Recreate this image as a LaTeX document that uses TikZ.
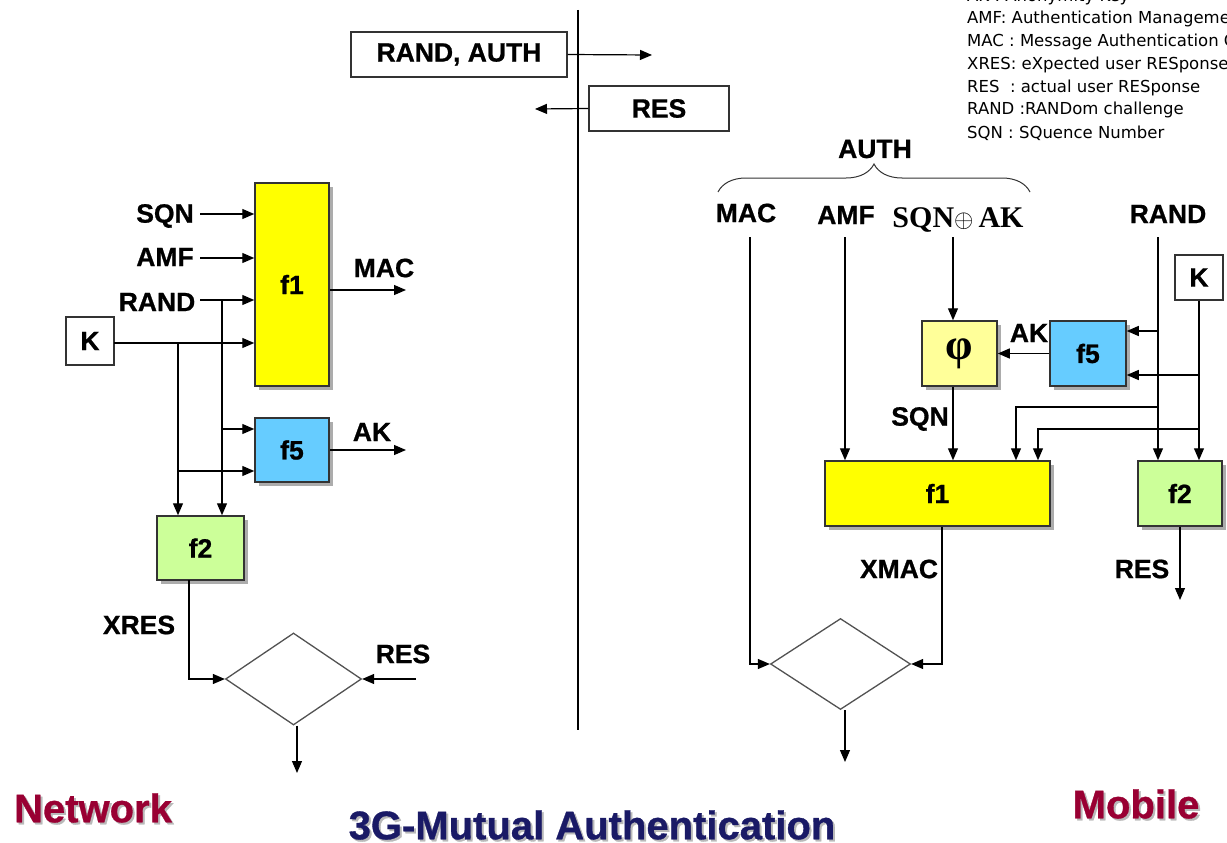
\documentclass[tikz,border=0pt]{standalone}
\usepackage{fontspec}
\setmainfont{DejaVu Sans}
\newfontfamily\serifb{Liberation Serif}
\newfontfamily\lab{Liberation Sans}[BoldFeatures={FakeBold=0.8}]
\usetikzlibrary{arrows.meta,shapes.geometric,shadows,decorations.pathreplacing}
\definecolor{fyellow}{HTML}{FFFF00}
\definecolor{fblue}{HTML}{66CCFF}
\definecolor{fgreen}{HTML}{CCFF99}
\definecolor{flight}{HTML}{FFFF99}
\definecolor{netred}{HTML}{990033}
\definecolor{navy}{HTML}{1A1A66}
\definecolor{boxline}{HTML}{333333}
\tikzset{
 lbl/.style={font=\lab\fontsize{26.5}{29}\selectfont\bfseries, inner sep=0pt},
 fbox/.style={draw=boxline, line width=1.5pt, inner sep=0pt,
   font=\lab\fontsize{26.5}{29}\selectfont\bfseries,
   general shadow={fill=gray!65, shadow xshift=4pt, shadow yshift=-4pt}},
 msgbox/.style={draw=boxline, line width=1.3pt, fill=white, inner sep=0pt,
   font=\lab\fontsize{26.5}{29}\selectfont\bfseries},
 arr/.style={line width=1.2pt, -{Triangle[length=12pt,width=10pt]}},
 ln/.style={line width=1.2pt},
 cmp/.style={diamond, draw=boxline!85, line width=1.3pt, inner sep=0pt},
 legend/.style={anchor=west, inner sep=0pt, font=\fontsize{16.5}{18}\selectfont},
 ttl/.style={font=\lab\fontsize{40}{44}\selectfont\bfseries, inner sep=0pt},
}
\begin{document}
\begin{tikzpicture}[x=1pt,y=-1pt]
\clip (0,0) rectangle (1227,843);
\fill[white] (0,0) rectangle (1227,843);

% divider and messages
\coordinate (divT) at (578,10);
\coordinate (divB) at (578,730);
\draw[ln] (divT) -- (divB);
\node[msgbox, minimum width=216pt, minimum height=45pt] (ra) at (459,54.5) {RAND, AUTH};
\coordinate (raEnd) at (652,55);
\draw[arr] (ra.east) -- (raEnd);
\node[msgbox, minimum width=140pt, minimum height=45pt] (resm) at (659,108.5) {RES};
\coordinate (resEnd) at (535,109);
\draw[arr] (resm.west) -- (resEnd);

% legend
\node[legend] (lg1) at (967,-3) {AK : Anonymity Key};
\node[legend] (lg2) at (967,19) {AMF: Authentication Management Field};
\node[legend] (lg3) at (967,42) {MAC : Message Authentication Code};
\node[legend] (lg4) at (967,65) {XRES: eXpected user RESponse};
\node[legend] (lg5) at (967,88) {RES\ \ : actual user RESponse};
\node[legend] (lg6) at (967,110) {RAND :RANDom challenge};
\node[legend] (lg7) at (967,133) {SQN : SQuence Number};

% ===== Network side =====
\node[fbox, fill=fyellow, minimum width=74pt, minimum height=203pt] (f1L) at (292,284.5) {f1};
\node[fbox, fill=fblue, minimum width=74pt, minimum height=64pt] (f5L) at (292,450) {f5};
\node[fbox, fill=fgreen, minimum width=87pt, minimum height=64pt] (f2L) at (200.5,548) {f2};
\node[msgbox, minimum width=48pt, minimum height=48pt] (kL) at (90,341) {K};
\node[cmp, minimum width=136pt, minimum height=92pt] (cmpL) at (293.5,679) {};

\node[lbl] (sqnL) at (165,216) {SQN};
\node[lbl] (amfL) at (165,257) {AMF};
\node[lbl] (randL) at (157,302) {RAND};
\node[lbl] (macL) at (384,268) {MAC};
\node[lbl] (akL) at (372,432) {AK};
\node[lbl] (xresL) at (139,625) {XRES};
\node[lbl] (resL) at (403,654) {RES};

\coordinate (sqnS) at (200,214);
\coordinate (amfS) at (200,258);
\coordinate (randS) at (200,300);
\draw[arr] (sqnS) -- (sqnS -| f1L.west);
\draw[arr] (amfS) -- (amfS -| f1L.west);
\draw[arr] (randS) -- (randS -| f1L.west);
\coordinate (kS) at (114,343);
\draw[arr] (kS) -- (kS -| f1L.west);
\coordinate (macE) at (406,290);
\draw[arr] (f1L.east |- macE) -- (macE);
\coordinate (akE) at (406,450);
\draw[arr] (f5L.east) -- (akE);
% branches
\coordinate (kx) at (178,343);
\coordinate (rx) at (222,300);
\draw[arr] (kx) -- (kx |- f2L.north);
\draw[arr] (rx) -- (rx |- f2L.north);
\coordinate (rb) at (222,429);
\coordinate (kb) at (178,471);
\draw[arr] (rb) -- (rb -| f5L.west);
\draw[arr] (kb) -- (kb -| f5L.west);
% f2 -> compare
\coordinate (xresS) at (189,580);
\draw[arr] (xresS) |- (cmpL.west);
\coordinate (resS) at (416,679);
\draw[arr] (resS) -- (cmpL.east);
\coordinate (outL) at (297,773);
\draw[arr] (cmpL.south -| outL) -- (outL);

% ===== Mobile side =====
\node[lbl] (auth) at (875,149) {AUTH};
\coordinate (brL) at (718,192);
\coordinate (brR) at (1030,192);
\draw[decorate, decoration={brace, amplitude=28pt}, line width=1pt, draw=boxline] (brL) -- (brR);

\node[lbl] (macR) at (746,213) {MAC};
\node[lbl] (amfR) at (846,215) {AMF};
\node[inner sep=0pt, font=\fontsize{30}{33}\selectfont] (xorR) at (958,220) {\serifb\bfseries SQN$\oplus$\,AK};
\node[lbl] (randR) at (1168,214) {RAND};
\node[msgbox, minimum width=48pt, minimum height=45pt] (kR) at (1199,277.5) {K};

\node[fbox, fill=flight, minimum width=75pt, minimum height=65pt, font=\fontsize{44}{46}\selectfont] (phi) at (959.5,353.5) {\serifb\bfseries φ};
\node[fbox, fill=fblue, minimum width=76pt, minimum height=65pt] (f5R) at (1088,353.5) {f5};
\node[fbox, fill=fyellow, minimum width=225pt, minimum height=65pt] (f1R) at (937.5,493.5) {f1};
\node[fbox, fill=fgreen, minimum width=84pt, minimum height=65pt] (f2R) at (1180,493.5) {f2};
\node[cmp, minimum width=140pt, minimum height=91pt] (cmpR) at (840.5,664) {};

\node[lbl] (akR) at (1029,333) {AK};
\node[lbl] (sqnR) at (920,419) {SQN};
\node[lbl] (xmacR) at (899,569) {XMAC};
\node[lbl] (resR) at (1142,569) {RES};

\coordinate (macT) at (750,237);
\coordinate (amfT) at (845,237);
\coordinate (xorT) at (953,237);
\coordinate (randT) at (1158,237);
\draw[arr] (macT) |- (cmpR.west);
\draw[arr] (amfT) -- (amfT |- f1R.north);
\draw[arr] (xorT) -- (xorT |- phi.north);
\draw[arr] (xorT |- phi.south) -- (xorT |- f1R.north);
\draw[arr] (f5R.west) -- (phi.east);
\draw[arr] (randT) -- (randT |- f2R.north);
\coordinate (r1) at (1158,331);
\coordinate (r2) at (1158,407);
\draw[arr] (r1) -- (r1 -| f5R.east);
\draw[arr] (r2) -| (f1R.north -| 1016,0);
\draw[arr] (kR.south) -- (kR.south |- f2R.north);
\coordinate (k1) at (1199,375);
\coordinate (k2) at (1199,429);
\draw[arr] (k1) -- (k1 -| f5R.east);
\draw[arr] (k2) -| (f1R.north -| 1038,0);
\draw[arr] (f1R.south -| 942,0) |- (cmpR.east);
\coordinate (outR) at (845,762);
\draw[arr] (cmpR.south -| outR) -- (outR);
\coordinate (resOut) at (1180,600);
\draw[arr] (f2R.south -| resOut) -- (resOut);

% titles
\node[ttl, text=gray!55] at (95,810) {Network};
\node[ttl, text=netred] (tNet) at (93,808) {Network};
\node[ttl, text=gray!55] at (1138,806) {Mobile};
\node[ttl, text=netred] (tMob) at (1136,804) {Mobile};
\node[ttl, text=gray!55] at (594,827) {3G-Mutual Authentication};
\node[ttl, text=navy] (tMain) at (592,825) {3G-Mutual Authentication};
\end{tikzpicture}
\end{document}
